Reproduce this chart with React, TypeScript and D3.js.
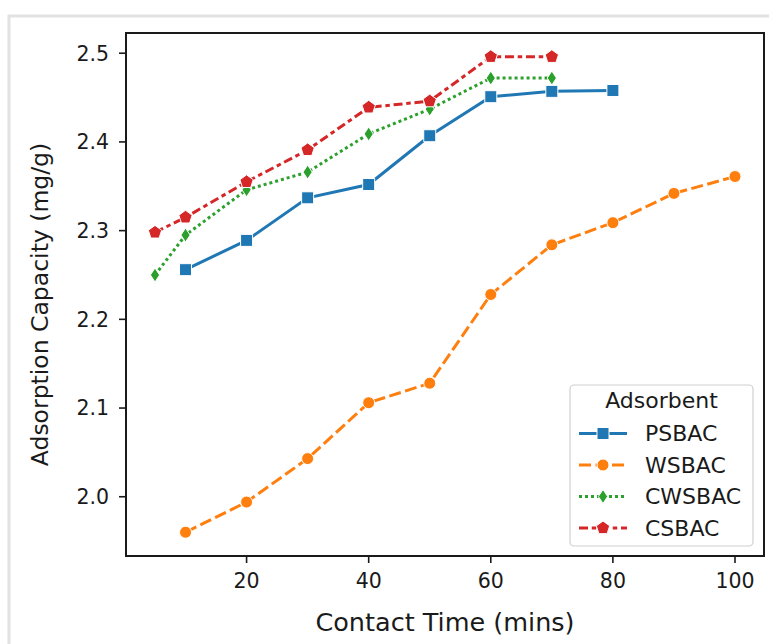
import React from 'react';
import * as d3 from 'd3';

// contact time (mins) for each adsorbent
const psbacTime = [10, 20, 30, 40, 50, 60, 70, 80];
const psbacCap = [2.256, 2.289, 2.337, 2.352, 2.407, 2.451, 2.457, 2.458];
const wsbacTime = [10, 20, 30, 40, 50, 60, 70, 80, 90, 100];
const wsbacCap = [1.960, 1.994, 2.043, 2.106, 2.128, 2.228, 2.284, 2.309, 2.342, 2.361];
const cwsbacTime = [5, 10, 20, 30, 40, 50, 60, 70];
const cwsbacCap = [2.250, 2.295, 2.346, 2.366, 2.409, 2.437, 2.472, 2.472];
const csbacTime = [5, 10, 20, 30, 40, 50, 60, 70];
const csbacCap = [2.298, 2.315, 2.355, 2.391, 2.439, 2.446, 2.496, 2.496];

const seriesNames = ['PSBAC', 'WSBAC', 'CWSBAC', 'CSBAC'];
const xTicks = [20, 40, 60, 80, 100];
const yTicks = [2.0, 2.1, 2.2, 2.3, 2.4, 2.5];

const colors = ['#1f77b4', '#ff7f0e', '#2ca02c', '#d62728'];
const dashes = ['', '12,4.5', '3,3', '9,3.75,4.5,3.75'];
const markers = ['square', 'circle', 'diamond', 'pentagon'];

const FONT = '"DejaVu Sans", sans-serif';

const margin = { left: 126, right: 764, top: 33, bottom: 556 };

function markerPath(kind: string) {
  if (kind === 'square') return d3.symbol(d3.symbolSquare, 144)();
  if (kind === 'circle') return d3.symbol(d3.symbolCircle, 113)();
  if (kind === 'diamond') return 'M0,-7L4.6,0L0,7L-4.6,0Z';
  // pentagon
  const r = 7;
  const pts = d3.range(5).map(i => {
    const a = -Math.PI / 2 + (i * 2 * Math.PI) / 5;
    return [r * Math.cos(a), r * Math.sin(a)];
  });
  return 'M' + pts.map(p => p.join(',')).join('L') + 'Z';
}

const Marker = ({ x, y, i }: { x: number; y: number; i: number }) => (
  <path d={markerPath(markers[i]) || ''} transform={`translate(${x},${y})`}
    fill={colors[i]} stroke="#fff" strokeWidth={1} />
);

export default function App() {
  const series = [
    { t: psbacTime, v: psbacCap },
    { t: wsbacTime, v: wsbacCap },
    { t: cwsbacTime, v: cwsbacCap },
    { t: csbacTime, v: csbacCap },
  ];
  const allT = series.flatMap(s => s.t);
  const allV = series.flatMap(s => s.v);
  const tMin = d3.min(allT)!, tMax = d3.max(allT)!;
  const vMin = d3.min(allV)!, vMax = d3.max(allV)!;
  const tPad = (tMax - tMin) * 0.05, vPad = (vMax - vMin) * 0.05;

  const x = d3.scaleLinear().domain([tMin - tPad, tMax + tPad]).range([margin.left, margin.right]);
  const y = d3.scaleLinear().domain([vMin - vPad, vMax + vPad]).range([margin.bottom, margin.top]);

  const line = d3.line<[number, number]>().x(d => x(d[0])).y(d => y(d[1]));

  const legX = 570, legY = 385, legW = 183, legH = 161;
  const rowY = [433.5, 465, 496.5, 528];

  return (
    <svg width={769} height={644} style={{ position: 'absolute', left: 0, top: 0, background: '#fff' }}>
      <rect x={0} y={0} width={769} height={644} fill="#fff" />
      {/* outer frame */}
      <rect x={9} y={16} width={800} height={700} fill="none" stroke="#e2e2e2" strokeWidth={3} />

      {/* lines */}
      {series.map((s, i) => (
        <path key={'l' + i} d={line(s.t.map((t, j) => [t, s.v[j]] as [number, number])) || ''}
          fill="none" stroke={colors[i]} strokeWidth={3} strokeDasharray={dashes[i]} />
      ))}
      {series.map((s, i) => s.t.map((t, j) => (
        <Marker key={`m${i}-${j}`} x={x(t)} y={y(s.v[j])} i={i} />
      )))}

      {/* axes box */}
      <rect x={margin.left} y={margin.top} width={margin.right - margin.left}
        height={margin.bottom - margin.top} fill="none" stroke="#1a1a1a" strokeWidth={2} />

      {xTicks.map(t => (
        <g key={'xt' + t}>
          <line x1={x(t)} x2={x(t)} y1={margin.bottom} y2={margin.bottom + 7} stroke="#1a1a1a" strokeWidth={1.6} />
          <text x={x(t)} y={588} textAnchor="middle" fontFamily={FONT} fontSize={20.5} fill="#1a1a1a">{t}</text>
        </g>
      ))}
      {yTicks.map(t => (
        <g key={'yt' + t}>
          <line x1={margin.left - 7} x2={margin.left} y1={y(t)} y2={y(t)} stroke="#1a1a1a" strokeWidth={1.6} />
          <text x={109} y={y(t)} dy="0.36em" textAnchor="end" fontFamily={FONT} fontSize={20.5} fill="#1a1a1a">{t.toFixed(1)}</text>
        </g>
      ))}

      <text x={(margin.left + margin.right) / 2} y={631} textAnchor="middle" fontFamily={FONT} fontSize={25.5} fill="#1a1a1a">
        Contact Time (mins)
      </text>
      <text transform={`translate(48,${(margin.top + margin.bottom) / 2 + 10}) rotate(-90)`} textAnchor="middle"
        fontFamily={FONT} fontSize={23.5} fill="#1a1a1a">
        Adsorption Capacity (mg/g)
      </text>

      {/* legend */}
      <rect x={legX} y={legY} width={legW} height={legH} rx={4} fill="#fff" fillOpacity={0.8} stroke="#d0d0d0" strokeWidth={1.2} />
      <text x={legX + legW / 2} y={408} textAnchor="middle" fontFamily={FONT} fontSize={22} fill="#1a1a1a">Adsorbent</text>
      {seriesNames.map((name, i) => (
        <g key={'lg' + i}>
          <line x1={579} x2={627} y1={rowY[i]} y2={rowY[i]} stroke={colors[i]} strokeWidth={3} strokeDasharray={dashes[i]} />
          <Marker x={603} y={rowY[i]} i={i} />
          <text x={645} y={rowY[i]} dy="0.36em" fontFamily={FONT} fontSize={22} fill="#1a1a1a">{name}</text>
        </g>
      ))}
    </svg>
  );
}
